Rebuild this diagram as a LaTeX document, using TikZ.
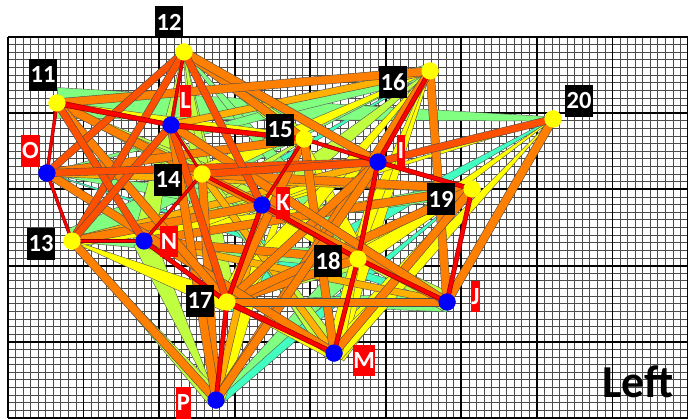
\documentclass[tikz,border=0pt]{standalone}
\usepackage{fontspec}
\setmainfont{Carlito}
\usetikzlibrary{calc}
\definecolor{bandRed}{RGB}{255,0,0}
\definecolor{bandDark}{RGB}{150,0,0}
\definecolor{bandScarlet}{RGB}{255,80,0}
\definecolor{bandOrange}{RGB}{255,128,0}
\definecolor{bandAmber}{RGB}{255,176,0}
\definecolor{bandYellow}{RGB}{255,255,0}
\definecolor{bandLime}{RGB}{192,255,64}
\definecolor{bandMint}{RGB}{128,255,128}
\definecolor{bandAqua}{RGB}{64,255,192}
\definecolor{dotYellow}{RGB}{255,255,0}
\definecolor{dotBlue}{RGB}{0,0,255}
\tikzset{every path/.style={line join=round}}

% tapered band from #1 to #2, half widths #3 and #4, style #5
\newcommand{\linkband}[5]{%
  \filldraw[#5] ($(#1)!#3!90:(#2)$) -- ($(#2)!#4!-90:(#1)$)
    -- ($(#2)!#4!90:(#1)$) -- ($(#1)!#3!-90:(#2)$) -- cycle;}

\begin{document}
\begin{tikzpicture}[
    x=0.025cm, y=-0.025cm,
    gridminor/.style={line width=0.6pt, black!70},
    gridmajor/.style={line width=1.3pt, black},
    ydot/.style={circle, fill=dotYellow, minimum size=0.43cm, inner sep=0pt},
    bdot/.style={circle, fill=dotBlue, minimum size=0.43cm, inner sep=0pt},
    numtag/.style={fill=black, text=white, font=\fontsize{17.5pt}{20pt}\selectfont\bfseries,
        inner xsep=1pt, inner ysep=0pt, minimum height=22.7pt},
    lettag/.style={numtag, fill=bandRed, inner xsep=0.5pt},
    aquaband/.style={fill=bandAqua, draw=black!65, line width=0.3pt},
    mintband/.style={fill=bandMint, draw=black!65, line width=0.3pt},
    limeband/.style={fill=bandLime, draw=black!65, line width=0.3pt},
    yellowband/.style={fill=bandYellow, draw=black!65, line width=0.3pt},
    amberband/.style={fill=bandAmber, draw=black!70, line width=0.3pt},
    orangeband/.style={fill=bandOrange, draw=black!70, line width=0.3pt},
    scarletband/.style={fill=bandScarlet, draw=black!70, line width=0.3pt},
    redband/.style={fill=bandRed, draw=bandDark, line width=0.4pt}
]
\useasboundingbox (0,0) rectangle (688,419);
\fill[white] (0,0) rectangle (688,419);

% grid
\foreach \i in {0,...,90}
  \draw[gridminor] ({8+7.556*\i},37) -- ({8+7.556*\i},418);
\foreach \j in {0,...,50}
  \draw[gridminor] (8,{37+7.62*\j}) -- (688,{37+7.62*\j});
\foreach \i in {0,...,9}
  \draw[gridmajor] ({8+75.56*\i},37) -- ({8+75.56*\i},418);
\foreach \j in {0,...,5}
  \draw[gridmajor] (8,{37+76.2*\j}) -- (688,{37+76.2*\j});

% points
\node[ydot] (n11) at (57,103) {};
\node[ydot] (n12) at (184,52) {};
\node[ydot] (n13) at (72,241) {};
\node[ydot] (n14) at (202,174) {};
\node[ydot] (n15) at (304,139) {};
\node[ydot] (n16) at (430,71) {};
\node[ydot] (n17) at (227,302) {};
\node[ydot] (n18) at (358,259) {};
\node[ydot] (n19) at (472,189) {};
\node[ydot] (n20) at (553,119) {};
\node[bdot] (nI) at (378,162) {};
\node[bdot] (nJ) at (447,302) {};
\node[bdot] (nK) at (262,205) {};
\node[bdot] (nL) at (171,125) {};
\node[bdot] (nM) at (334,353) {};
\node[bdot] (nN) at (144,241) {};
\node[bdot] (nO) at (47,173) {};
\node[bdot] (nP) at (216,400) {};

% bands
\foreach \a/\b/\wa/\wb in {n20/n17/0.4pt/8pt, n19/nP/0.3pt/5pt, n11/n18/0.3pt/3pt, nO/nJ/0.3pt/3pt,
    n16/nN/0.3pt/3pt}
  \linkband{\a}{\b}{\wa}{\wb}{aquaband};
\foreach \a/\b/\wa/\wb in {n20/n11/1.5pt/11pt, n16/n13/0.5pt/9pt, n12/n18/0.5pt/8pt, nP/n18/0.5pt/8pt,
    n13/n18/0.5pt/7pt, nO/nK/0.5pt/7pt, n17/nJ/0.5pt/7pt, nN/n19/0.3pt/5pt, nO/n16/0.3pt/5pt,
    nM/n14/0.5pt/6pt}
  \linkband{\a}{\b}{\wa}{\wb}{mintband};
\foreach \a/\b/\wa/\wb in {n12/n14/0.5pt/8pt, n12/nN/0.5pt/8pt, n12/n17/0.5pt/7pt, n11/n14/0.5pt/8pt,
    n11/nK/0.5pt/8pt, nO/n14/0.5pt/7pt, nN/nP/8pt/0.5pt, n16/nK/0.5pt/8pt, nK/nJ/0.5pt/7pt,
    n17/n18/0.5pt/7pt, n14/nM/0.5pt/7pt, n15/nN/0.5pt/7pt, nL/nM/0.5pt/7pt, n13/nP/0.5pt/6pt,
    n12/n15/0.5pt/6pt}
  \linkband{\a}{\b}{\wa}{\wb}{limeband};
\foreach \a/\b/\wa/\wb in {n13/n17/0.5pt/7pt, n11/n15/1pt/3pt, n16/n18/0.5pt/9pt, n19/nM/0.5pt/9pt,
    n20/nN/0.3pt/3pt, n17/nM/1pt/5pt, n15/n17/0.5pt/6pt, n16/n14/0.5pt/6pt, nK/nI/1pt/5pt,
    n14/n18/0.5pt/7pt, n20/n18/0.3pt/5pt, n19/n13/0.5pt/4pt, nI/nN/0.5pt/5pt, n15/n18/0.5pt/7pt,
    n15/nP/0.5pt/6pt, n16/nM/0.5pt/6pt, n16/n17/0.5pt/8pt, n19/n18/0.5pt/6pt, n20/nM/0.3pt/7pt,
    nI/nM/0.5pt/6pt}
  \linkband{\a}{\b}{\wa}{\wb}{yellowband};
\foreach \a/\b in {nL/n16, nK/nP, n13/nI, n14/nM, nO/n19, nN/nJ}
  \linkband{\a}{\b}{2.5pt}{2.5pt}{amberband};
\foreach \a/\b in {n12/n15, n12/nI, n11/nK, n11/n16, n13/nP, n13/nK, nN/n18, nN/n19, n14/nP,
    n14/n19, n15/n17, n15/nM, n16/nJ, n16/nP, n17/n18, n17/n19, n17/nI, n19/nM, n20/nJ,
    nO/n15, nL/nP, nI/nP, nK/nJ, nO/nM, n17/nJ, nL/nJ, n11/n17}
  \linkband{\a}{\b}{3pt}{3pt}{orangeband};
\foreach \a/\b in {n12/nO, n12/n13, n11/nN, nL/n13, nO/nI, nI/n20, n12/nK, nL/n17, n14/nI}
  \linkband{\a}{\b}{2.6pt}{2.6pt}{scarletband};
\foreach \a/\b/\wa/\wb in {n11/nL/2pt/1.5pt, nL/n15/2pt/1.5pt, nO/n11/1pt/1pt, nO/n13/1pt/1pt,
    n12/nL/1pt/1pt, nL/n14/0.8pt/0.8pt, n13/nN/1.2pt/1.2pt, nN/n14/1pt/1pt, nN/n17/1.5pt/1.5pt,
    n14/nK/1.2pt/1.2pt, n15/nK/1pt/1pt, n15/nI/1.2pt/1.2pt, nK/n18/1.5pt/1.5pt,
    nK/n17/1.5pt/1.5pt, nI/n16/1.5pt/1.5pt, nI/n19/1.5pt/1.5pt, nI/n18/1.5pt/1.5pt,
    n18/nM/1.5pt/1.5pt, n18/nJ/1.5pt/1.5pt, n19/nJ/1.5pt/1.5pt, n17/nM/2pt/1.5pt, n17/nP/1.5pt/1.5pt}
  \linkband{\a}{\b}{\wa}{\wb}{redband};

% dots again on top of the bands
\foreach \p in {n11,n12,n13,n14,n15,n16,n17,n18,n19,n20}
  \fill[dotYellow] (\p) circle (0.215cm);
\foreach \p in {nI,nJ,nK,nL,nM,nN,nO,nP}
  \fill[dotBlue] (\p) circle (0.215cm);

% tags
\node[numtag] (t11) at (43,75) {11};
\node[numtag] (t12) at (169,22) {12};
\node[numtag] (t13) at (41,244) {13};
\node[numtag] (t14) at (168,180) {14};
\node[numtag] (t15) at (280,130) {15};
\node[numtag] (t16) at (393,82) {16};
\node[numtag] (t17) at (200,301) {17};
\node[numtag] (t18) at (328,261) {18};
\node[numtag] (t19) at (441,199) {19};
\node[numtag] (t20) at (579,101) {20};
\node[lettag] (tI) at (401,151) {I};
\node[lettag] (tJ) at (475.5,296.5) {J};
\node[lettag] (tK) at (283,203) {K};
\node[lettag] (tL) at (185.5,101) {L};
\node[lettag] (tM) at (364,360.5) {M};
\node[lettag] (tN) at (169,241.5) {N};
\node[lettag] (tO) at (30.5,151) {O};
\node[lettag] (tP) at (183.5,403) {P};

\node[anchor=base, font=\fontsize{32.5pt}{36pt}\selectfont\bfseries] (side) at (638,397) {Left};
\end{tikzpicture}
\end{document}
